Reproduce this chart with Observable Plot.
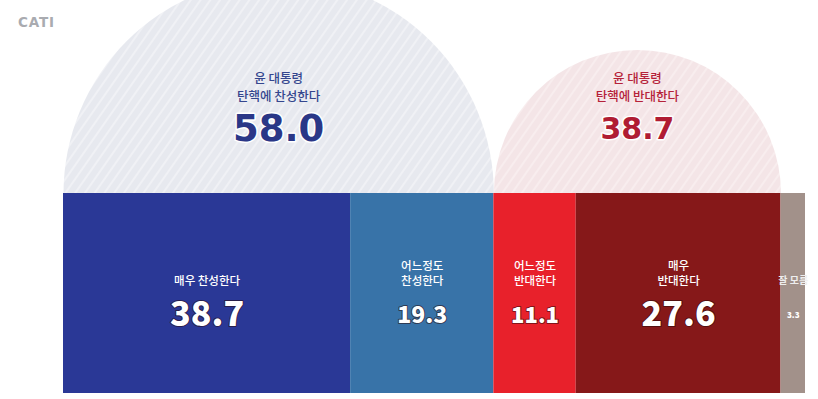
<!DOCTYPE html>
<html><head><meta charset="utf-8">
<script src="https://cdn.jsdelivr.net/npm/d3@7"></script>
<script src="https://cdn.jsdelivr.net/npm/@observablehq/plot@0.6"></script>
<style>
html,body{margin:0;padding:0;background:#fff;overflow:hidden}
#wrap{position:relative;width:818px;height:399px}
#cati{position:absolute;left:18px;top:14px;font:700 13.5px "DejaVu Sans",sans-serif;color:#a9abb0;letter-spacing:0.8px}
svg{display:block}
</style>
</head><body>
<div id="wrap"><div id="cati">CATI</div><div id="chart"></div></div>
<script>
// ---- data ----
const categories = ["매우 찬성한다", "어느정도\n찬성한다", "어느정도\n반대한다", "매우\n반대한다", "잘 모름"];
const values = [38.7, 19.3, 11.1, 27.6, 3.3];
const segColors = ["#2a3896", "#3873a8", "#e8212b", "#861819", "#a2918a"];
const groupLabels = ["윤 대통령\n탄핵에 찬성한다", "윤 대통령\n탄핵에 반대한다"];
const groupValues = [58.0, 38.7];
const groupMembers = [[0, 1], [2, 3]];

// ---- derived tables ----
let cum = 0;
const segs = values.map((v, i) => {
  const s = {cat: categories[i], value: v, x1: cum, x2: cum + v, mid: cum + v / 2, color: segColors[i], i};
  cum += v;
  return s;
});
const groups = groupValues.map((v, g) => {
  const start = segs[groupMembers[g][0]].x1;
  return {label: groupLabels[g], value: v, start, center: start + v / 2, half: v / 2, g};
});

const halfCircle = {
  draw(ctx, size) {
    const r = Math.sqrt(size / Math.PI);
    ctx.moveTo(-r, 0);
    ctx.arc(0, 0, r, Math.PI, 2 * Math.PI);
    ctx.closePath();
  }
};

const FONT = "Noto Sans CJK KR";
const NUMFONT = "DejaVu Sans";
const numSizes = [34, 23, 22, 34, 8];

const plot = Plot.plot({
  width: 818,
  height: 399,
  marginLeft: 63,
  marginRight: 13,
  marginTop: 0,
  marginBottom: 6,
  style: {fontFamily: FONT, background: "transparent"},
  x: {domain: [0, 100], axis: null},
  y: {type: "linear", domain: [0, 1], range: [393, 193], axis: null},
  r: {type: "linear", domain: [0, 50], range: [0, 371]},
  marks: [
    Plot.dot(groups.filter(d => d.g === 0), {x: "center", y: () => 1, r: "half", symbol: halfCircle, fill: "url(#stripeBlue)", stroke: "none"}),
    Plot.dot(groups.filter(d => d.g === 1), {x: "center", y: () => 1, r: "half", symbol: halfCircle, fill: "url(#stripeRed)", stroke: "none"}),
    Plot.rect(segs, {x1: "x1", x2: "x2", y1: () => 0, y2: () => 1, fill: "color", stroke: "none"}),
    // group labels
    Plot.text(groups, {x: "center", y: () => 1, dy: -107, text: "label", fontSize: 12.5, lineHeight: 1.38,
      fill: d => d.g === 0 ? "#34468e" : "#b52239", fontWeight: 500}),
    Plot.text(groups, {x: "center", y: () => 1, dy: -64, text: d => d.value.toFixed(1),
      fontSize: d => d.g === 0 ? 37 : 30, fontWeight: 700, fontFamily: NUMFONT,
      fill: d => d.g === 0 ? "#2a3787" : "#b01c33", stroke: "#ffffff", strokeWidth: 3, paintOrder: "stroke"}),
    // segment labels
    Plot.text(segs.filter(d => d.i < 4), {x: "mid", y: () => 1, dy: 91, text: "cat", lineAnchor: "bottom",
      fontSize: 11.5, lineHeight: 1.25, fill: "#ffffff", fontWeight: 500}),
    Plot.text(segs.filter(d => d.i === 4), {x: "mid", y: () => 1, dy: 87, text: "cat", lineAnchor: "middle",
      fontSize: 10, fill: "#eeeeee", fontWeight: 700}),
    Plot.text(segs, {x: "mid", y: () => 1, dy: 122, text: d => d.value.toFixed(1),
      fontSize: d => numSizes[d.i], fontWeight: 800, fill: "#ffffff",
      stroke: d => d.i === 4 ? "none" : "rgba(40,10,10,0.55)", strokeWidth: 2, paintOrder: "stroke"})
  ]
});

const svg = d3.select(plot);
const defs = svg.insert("defs", ":first-child");
function stripe(id, base, line) {
  const p = defs.append("pattern").attr("id", id).attr("patternUnits", "userSpaceOnUse")
    .attr("width", 8).attr("height", 8).attr("patternTransform", "rotate(35)");
  p.append("rect").attr("width", 8).attr("height", 8).attr("fill", base);
  p.append("line").attr("x1", 1).attr("y1", 0).attr("x2", 1).attr("y2", 8).attr("stroke", line).attr("stroke-width", 1.4);
}
stripe("stripeBlue", "#e7e9ef", "#f4f5f8");
stripe("stripeRed", "#f4e5e7", "#faf1f2");

document.getElementById("chart").appendChild(plot);
</script>
</body></html>
